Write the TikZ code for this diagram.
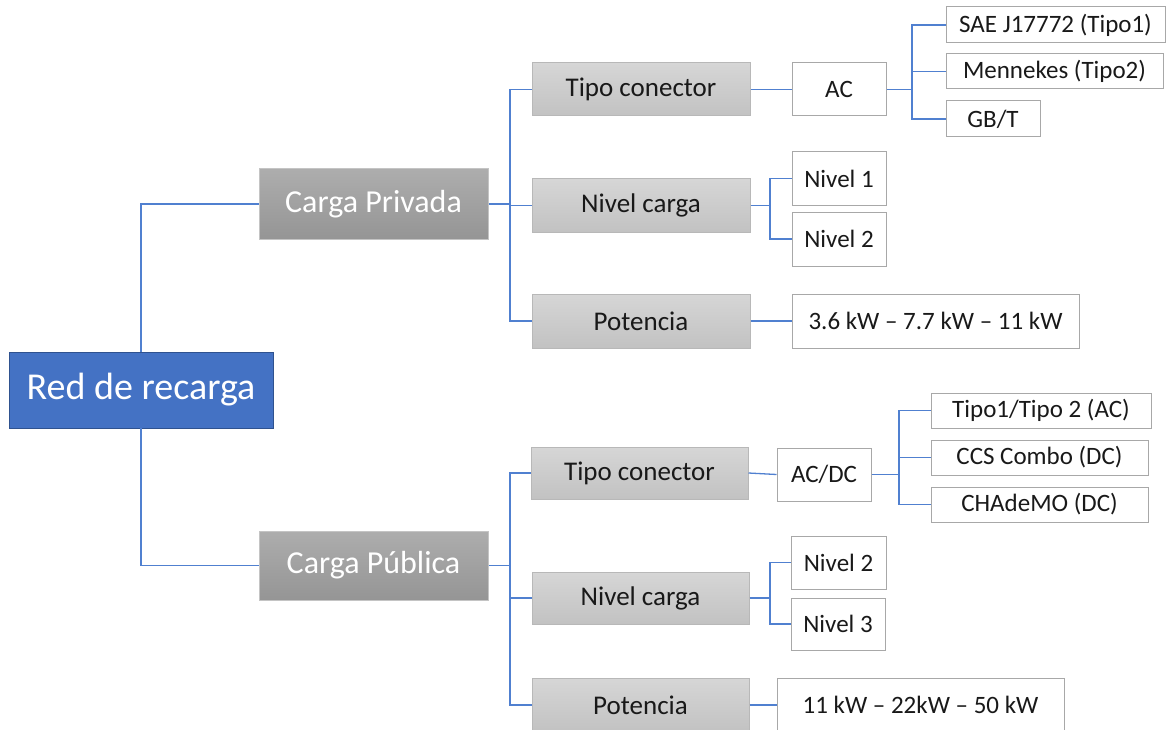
\documentclass[tikz,border=0pt]{standalone}
\usepackage{fontspec}
\setmainfont{Carlito}
\definecolor{linkblue}{HTML}{5080D0}
\definecolor{rootblue}{HTML}{4472C4}
\definecolor{rootedge}{HTML}{2F528F}
\definecolor{topup}{HTML}{ADADAD}
\definecolor{topdown}{HTML}{959595}
\definecolor{topedge}{HTML}{C4C4C4}
\definecolor{midup}{HTML}{D6D6D6}
\definecolor{middown}{HTML}{C2C2C2}
\definecolor{midedge}{HTML}{B8B8B8}
\definecolor{leafedge}{HTML}{A8A8A8}
\tikzset{
  every node/.style={inner sep=0pt, align=center},
  rootbox/.style={draw=rootedge, fill=rootblue, text=white, line width=0.8pt,
    font=\fontsize{38}{44}\selectfont},
  topbox/.style={draw=topedge, top color=topup, bottom color=topdown,
    text=white, line width=1pt, font=\fontsize{32}{38}\selectfont},
  midbox/.style={draw=midedge, top color=midup, bottom color=middown,
    text=black!90, line width=1pt, font=\fontsize{27}{32}\selectfont},
  leafbox/.style={draw=leafedge, fill=white, text=black!90, line width=1pt,
    font=\fontsize{25}{30}\selectfont},
  link/.style={draw=linkblue, line width=1.3pt},
}
\newcommand{\bx}[7]{\node[#1, minimum width=#4pt, minimum height=#5pt] (#2) at (#3) {#6#7};}
\begin{document}
\begin{tikzpicture}[x=1pt, y=-1pt]
\clip (0,0) rectangle (1166,730);
\fill[white] (0,0) rectangle (1166,730);

% bus positions of the elbow connectors
\coordinate (busA) at (510,0);
\coordinate (busB) at (912,0);
\coordinate (busC) at (770,0);
\coordinate (busD) at (899,0);

% root and first level
\bx{rootbox}{root}{141,390}{264}{76}{Red de recarga}{}
\bx{topbox}{priv}{373.5,204}{229}{70}{Carga Privada}{}
\bx{topbox}{pub}{373.5,565.5}{229}{69}{Carga Pública}{}

% private branch
\bx{midbox}{tca}{641,89.5}{218}{53}{Tipo conector}{}
\bx{midbox}{nca}{641,205.5}{218}{53}{Nivel carga}{}
\bx{midbox}{poa}{641,321}{218}{54}{Potencia}{}
\bx{leafbox}{ac}{839,89.5}{94}{53}{AC}{}
\bx{leafbox}{sae}{1055.5,25}{219}{36}{SAE J17772 (Tipo1)}{}
\bx{leafbox}{men}{1054.5,71.5}{217}{35}{Mennekes (Tipo2)}{}
\bx{leafbox}{gbt}{993,119}{94}{36}{GB/T}{}
\bx{leafbox}{nva}{839,178.5}{94}{53}{Nivel 1}{}
\bx{leafbox}{nvb}{839,239}{94}{54}{Nivel 2}{}
\bx{leafbox}{pwa}{935.5,321}{287}{54}{3.6 kW – 7.7 kW – 11 kW}{}

% public branch
\bx{midbox}{tcb}{639.5,473}{217}{52}{Tipo conector}{}
\bx{midbox}{ncb}{640.5,598}{217}{52}{Nivel carga}{}
\bx{midbox}{pob}{640.5,705}{217}{54}{Potencia}{}
\bx{leafbox}{acdc}{824,474.5}{94}{53}{AC/DC}{}
\bx{leafbox}{tip}{1041,410.5}{220}{35}{Tipo1/Tipo 2 (AC)}{}
\bx{leafbox}{ccs}{1039.5,457.5}{217}{35}{CCS Combo (DC)}{}
\bx{leafbox}{cha}{1039.5,504.5}{217}{35}{CHAdeMO (DC)}{}
\bx{leafbox}{nvc}{838.5,562.5}{95}{53}{Nivel 2}{}
\bx{leafbox}{nvd}{838,624}{94}{52}{Nivel 3}{}
\bx{leafbox}{pwb}{920.5,705}{287}{54}{11 kW – 22kW – 50 kW}{}

% connectors
\draw[link] (root.north) |- (priv.west);
\draw[link] (root.south) |- (pub.west);

\draw[link] (priv.east) -- (priv.east -| busA) |- (tca.west);
\draw[link] (priv.east -| busA) |- (nca.west);
\draw[link] (priv.east -| busA) |- (poa.west);
\draw[link] (tca.east) -- (ac.west);
\draw[link] (ac.east) -- (ac.east -| busB) |- (sae.west);
\draw[link] (ac.east -| busB) |- (men.west);
\draw[link] (ac.east -| busB) |- (gbt.west);
\draw[link] (nca.east) -- (nca.east -| busC) |- (nva.west);
\draw[link] (nca.east -| busC) |- (nvb.west);
\draw[link] (poa.east) -- (pwa.west);

\draw[link] (pub.east) -- (pub.east -| busA) |- (tcb.west);
\draw[link] (pub.east -| busA) |- (ncb.west);
\draw[link] (pub.east -| busA) |- (pob.west);
\draw[link] (tcb.east) -- (acdc.west);
\draw[link] (acdc.east) -- (acdc.east -| busD) |- (tip.west);
\draw[link] (acdc.east -| busD) |- (ccs.west);
\draw[link] (acdc.east -| busD) |- (cha.west);
\draw[link] (ncb.east) -- (ncb.east -| busC) |- (nvc.west);
\draw[link] (ncb.east -| busC) |- (nvd.west);
\draw[link] (pob.east) -- (pwb.west);
\end{tikzpicture}
\end{document}
